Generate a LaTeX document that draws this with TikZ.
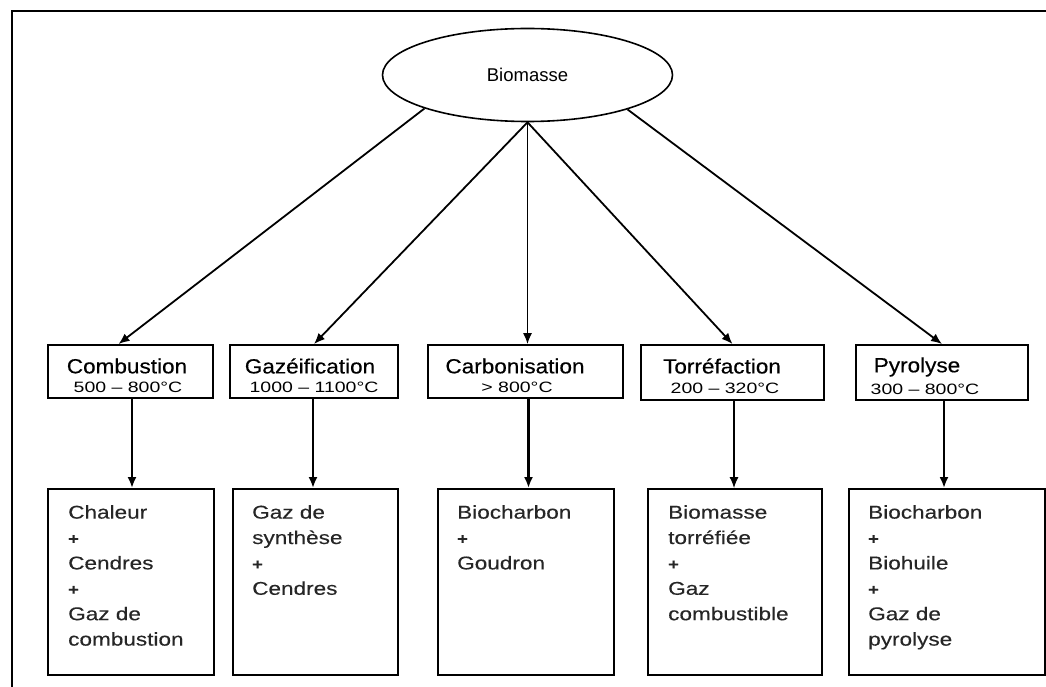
\documentclass[tikz,border=0pt]{standalone}
\usepackage{fontspec}
\setmainfont{Liberation Sans}
\newfontfamily\titlef{Liberation Sans}[FakeStretch=1.1,FakeBold=0.4]
\newfontfamily\tempf{Liberation Sans}[FakeStretch=1.3]
\newfontfamily\outf{Liberation Sans}[FakeStretch=1.22,FakeBold=0.3]
\usetikzlibrary{shapes.geometric,arrows.meta}
\newcommand{\pl}{{\fontsize{15}{25.4}\selectfont\bfseries +}}
\tikzset{
  procbox/.style={draw, line width=1.9pt, inner sep=0pt, minimum height=53pt},
  outbox/.style={draw, line width=1.9pt, inner sep=0pt, minimum height=186pt},
  ttl/.style={font=\titlef\fontsize{20.5}{24}\selectfont, inner sep=0pt},
  tmp/.style={font=\tempf\fontsize{15}{18}\selectfont, inner sep=0pt},
  outtxt/.style={font=\outf\fontsize{18.5}{25.4}\selectfont, align=left, inner sep=0pt, anchor=north west, text=black!85},
  arr/.style={line width=1.8pt, -{Latex[length=11pt,width=9pt]}}
}
\begin{document}
\begin{tikzpicture}[x=1pt,y=-1pt]
\useasboundingbox (0,0) rectangle (1046,687);
\clip (0,0) rectangle (1046,687);
\draw[line width=2.8pt] (12,11) rectangle (1120,760);
% top ellipse
\node[ellipse, draw, line width=1.6pt, minimum width=290pt, minimum height=93pt, inner sep=0pt,
      font=\fontsize{18.5}{22}\selectfont] (bio) at (527.5,75) {Biomasse};
% process boxes
\node[procbox, minimum width=165pt] (c1) at (130.5,371.5) {};
\node[procbox, minimum width=168pt] (c2) at (314,371.5) {};
\node[procbox, minimum width=195pt] (c3) at (525.5,371.5) {};
\node[procbox, minimum width=183pt, minimum height=55pt] (c4) at (732.5,372.5) {};
\node[procbox, minimum width=172pt, minimum height=55pt] (c5) at (942,372.5) {};
% process texts
\node[ttl] (t1) at (127,366) {Combustion};
\node[tmp] (m1) at (128,387) {500 – 800°C};
\node[ttl] (t2) at (310,366) {Gazéification};
\node[tmp] (m2) at (314,387) {1000 – 1100°C};
\node[ttl] (t3) at (515,366) {Carbonisation};
\node[tmp] (m3) at (517,387) {> 800°C};
\node[ttl] (t4) at (722,366) {Torréfaction};
\node[tmp] (m4) at (725,388) {200 – 320°C};
\node[ttl] (t5) at (917,367) {Pyrolyse};
\node[tmp] (m5) at (925,389) {300 – 800°C};
% output boxes
\node[outbox, minimum width=166pt] (o1) at (131,582) {};
\node[outbox, minimum width=165pt] (o2) at (315.5,582) {};
\node[outbox, minimum width=176pt] (o3) at (526,582) {};
\node[outbox, minimum width=174pt] (o4) at (735,582) {};
\node[outbox, minimum width=196pt] (o5) at (947,582) {};
% output texts
\node[outtxt] (x1) at (68,505) {Chaleur\\ \pl\\ Cendres\\ \pl\\ Gaz de\\ combustion};
\node[outtxt] (x2) at (252,505) {Gaz de\\ synthèse\\ \pl\\ Cendres};
\node[outtxt] (x3) at (457,505) {Biocharbon\\ \pl\\ Goudron};
\node[outtxt] (x4) at (668,505) {Biomasse\\ torréfiée\\ \pl\\ Gaz\\ combustible};
\node[outtxt] (x5) at (868,505) {Biocharbon\\ \pl\\ Biohuile\\ \pl\\ Gaz de\\ pyrolyse};
% arrows from ellipse
\draw[arr] (bio.198) -- ([xshift=-12pt]c1.north);
\draw[arr] (bio.south) -- (c2.north);
\draw[arr, line width=1.3pt] (bio.south) -- (bio.south |- c3.north);
\draw[arr] (bio.south) -- (c4.north);
\draw[arr] (bio.341) -- (c5.north);
% arrows down
\draw[arr, line width=2.2pt] ([xshift=1.5pt]c1.south) -- ([xshift=1.5pt]c1.south |- o1.north);
\draw[arr, line width=2.2pt] ([xshift=-1pt]c2.south) -- ([xshift=-1pt]c2.south |- o2.north);
\draw[arr, line width=2.2pt] ([xshift=3pt]c3.south) -- ([xshift=3pt]c3.south |- o3.north);
\draw[arr, line width=1.2pt] ([xshift=1.5pt]c4.south) -- ([xshift=1.5pt]c4.south |- o4.north);
\draw[arr, line width=2.2pt] ([xshift=2pt]c5.south) -- ([xshift=2pt]c5.south |- o5.north);
\end{tikzpicture}
\end{document}
